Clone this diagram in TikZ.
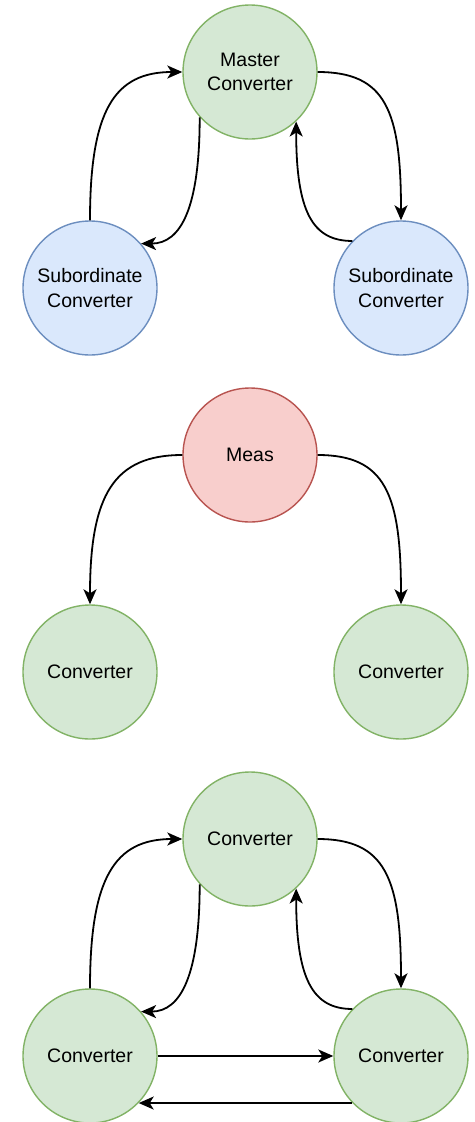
\documentclass[tikz,border=0pt]{standalone}
\usepackage{fontspec}
\setmainfont{Liberation Sans}
\usetikzlibrary{arrows.meta}
\definecolor{greenfill}{HTML}{D5E8D4}
\definecolor{greenline}{HTML}{82B366}
\definecolor{bluefill}{HTML}{DAE8FC}
\definecolor{blueline}{HTML}{6C8EBF}
\definecolor{redfill}{HTML}{F8CECC}
\definecolor{redline}{HTML}{B85450}
\tikzset{
  unit/.style={circle, minimum size=134pt, inner sep=0pt, line width=1.4pt,
    align=center, font=\fontsize{19.5}{24.5}\selectfont},
  conv/.style={unit, fill=greenfill, draw=greenline},
  sub/.style={unit, fill=bluefill, draw=blueline},
  meas/.style={unit, fill=redfill, draw=redline},
  link/.style={line width=1.8pt, -{Stealth[length=15pt,width=13pt,inset=4pt]}}
}
\begin{document}
\begin{tikzpicture}[x=1pt, y=-1pt]
\useasboundingbox (0,0) rectangle (474,1122);

% master / subordinate group
\node[conv] (m1) at (250,72) {Master\\Converter};
\node[sub] (l1) at (90,288) {Subordinate\\Converter};
\node[sub] (r1) at (401,288) {Subordinate\\Converter};
\draw[link] (l1.90) .. controls +(0,-110) and +(-68,0) .. (m1.180);
\draw[link] (m1.222) .. controls +(0,90) and +(40,0) .. (l1.41);
\draw[link] (r1.136) .. controls +(-40,0) and +(0,90) .. (m1.313);
\draw[link] (m1.0) .. controls +(68,0) and +(0,-110) .. (r1.90);

% measurement group
\node[meas] (m2) at (250,455) {Meas};
\node[conv] (l2) at (90,672) {Converter};
\node[conv] (r2) at (401,672) {Converter};
\draw[link] (m2.180) .. controls +(-68,0) and +(0,-110) .. (l2.90);
\draw[link] (m2.0) .. controls +(68,0) and +(0,-110) .. (r2.90);

% ring of converters
\node[conv] (m3) at (250,839) {Converter};
\node[conv] (l3) at (90,1056) {Converter};
\node[conv] (r3) at (401,1056) {Converter};
\draw[link] (l3.90) .. controls +(0,-110) and +(-68,0) .. (m3.180);
\draw[link] (m3.222) .. controls +(0,90) and +(40,0) .. (l3.41);
\draw[link] (r3.136) .. controls +(-40,0) and +(0,90) .. (m3.313);
\draw[link] (m3.0) .. controls +(68,0) and +(0,-110) .. (r3.90);
\draw[link] (l3.0) -- (r3.180);
\draw[link] (r3.224) -- (l3.-44);
\end{tikzpicture}
\end{document}
